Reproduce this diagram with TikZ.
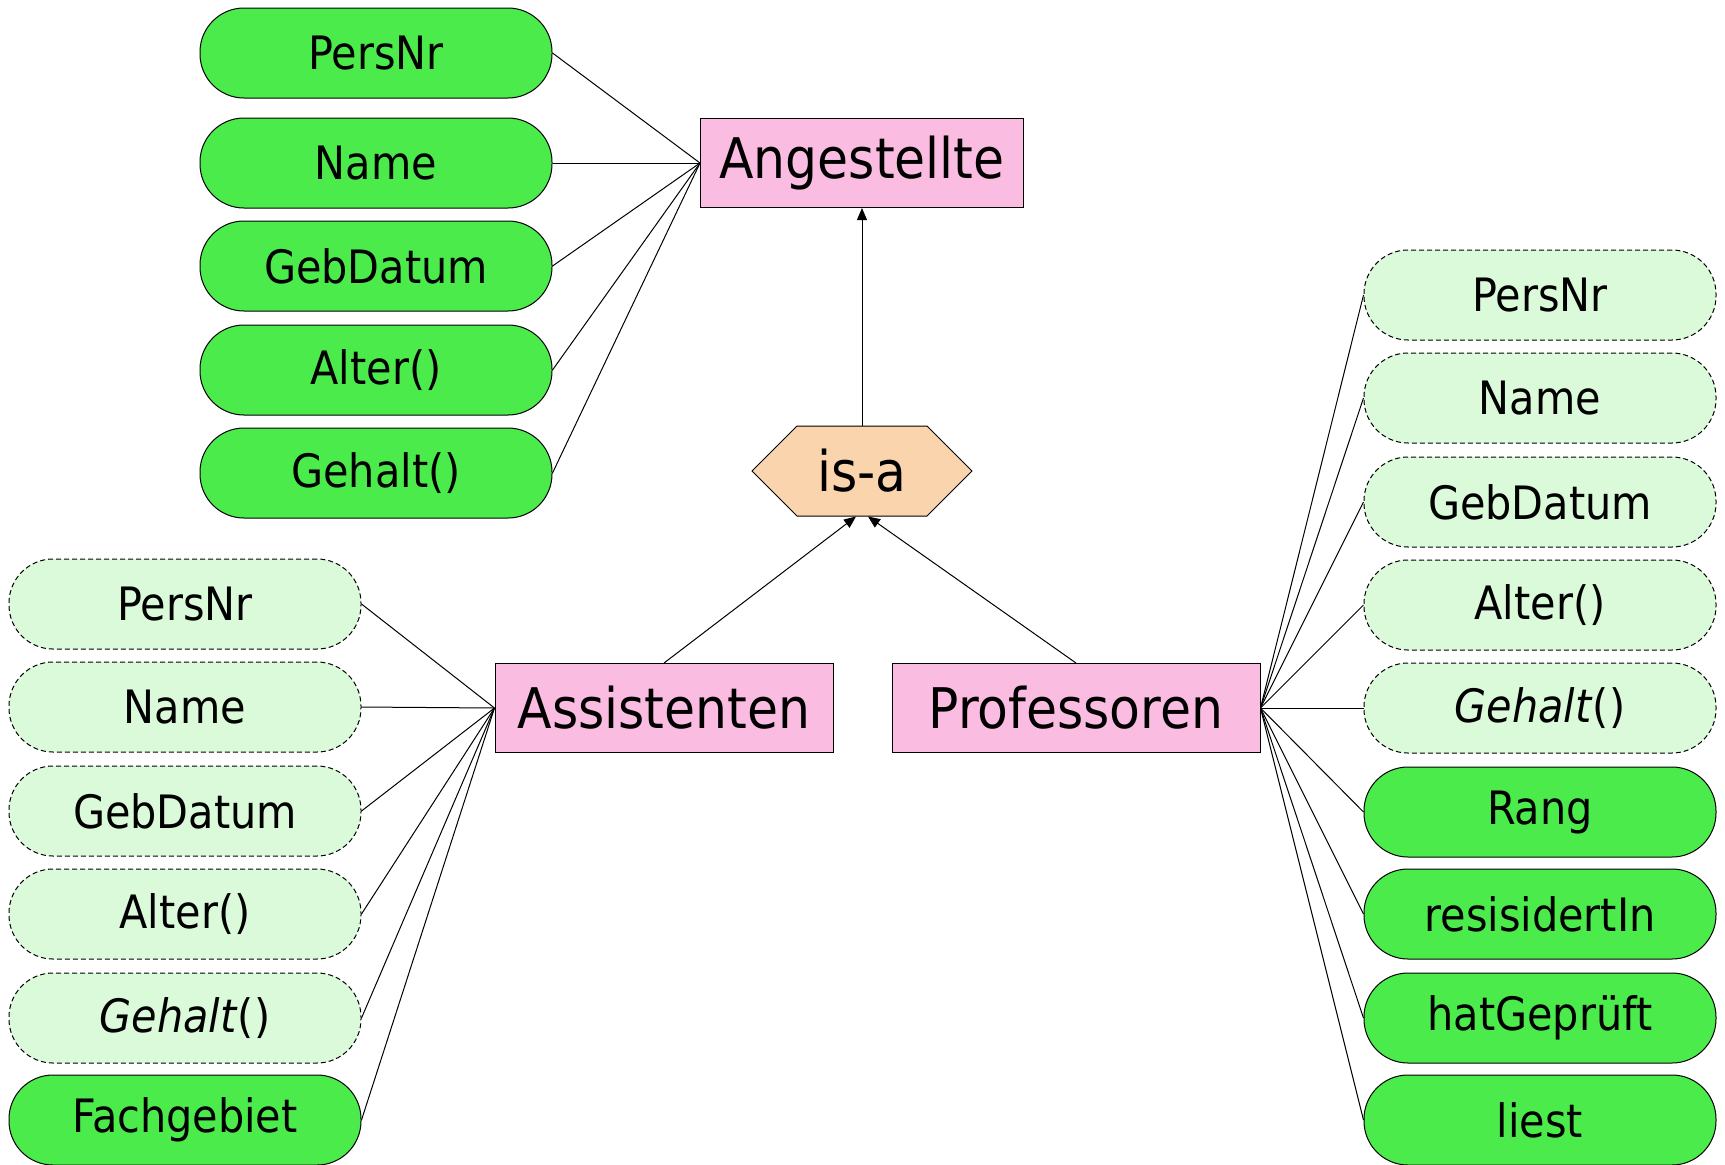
\documentclass[tikz,border=0pt]{standalone}
\usepackage{fontspec}
\setmainfont{DejaVu Sans Condensed}
\usetikzlibrary{shapes.symbols,arrows.meta}

\definecolor{attrgreen}{RGB}{75,235,75}
\definecolor{inhgreen}{RGB}{218,250,218}
\definecolor{entpink}{RGB}{250,188,225}
\definecolor{isapeach}{RGB}{250,212,172}

\begin{document}
\begin{tikzpicture}
  [x=0.5pt,y=-0.5pt,line width=0.5pt,
   attr/.style={rectangle,rounded corners=22pt,draw,fill=attrgreen,minimum width=176pt,minimum height=45pt,font=\fontsize{23}{26}\selectfont,inner sep=0pt},
   inh/.style={attr,fill=inhgreen,dash pattern=on 2.5pt off 1.5pt},
   ent/.style={rectangle,draw,fill=entpink,minimum height=44.5pt,font=\fontsize{28}{32}\selectfont,inner sep=0pt},
   arr/.style={-{Triangle[length=6pt,width=5pt]}}]
  \useasboundingbox (0,0) rectangle (1725,1164);

  \node (ang)[ent,minimum width=161.5pt] at (862,163) {Angestellte};
  \node (isa)[signal,signal to=west and east,signal pointer angle=90,draw,fill=isapeach,minimum width=110pt,minimum height=45pt,inner sep=0pt,font=\fontsize{28}{32}\selectfont] at (862,471) {is-a};
  \node (ass)[ent,minimum width=169pt] at (664,708) {Assistenten};
  \node (prof)[ent,minimum width=184pt] at (1076,708) {Professoren};

  \node (a1)[attr] at (376,53)  {PersNr};
  \node (a2)[attr] at (376,163) {Name};
  \node (a3)[attr] at (376,266) {GebDatum};
  \node (a4)[attr] at (376,370) {Alter()};
  \node (a5)[attr] at (376,473) {Gehalt()};

  \node (s1)[inh] at (185,604)  {PersNr};
  \node (s2)[inh] at (185,707)  {Name};
  \node (s3)[inh] at (185,811)  {GebDatum};
  \node (s4)[inh] at (185,914)  {Alter()};
  \node (s5)[inh] at (185,1018) {\textit{Gehalt}()};
  \node (s6)[attr] at (185,1120) {Fachgebiet};

  \node (p1)[inh] at (1540,295)  {PersNr};
  \node (p2)[inh] at (1540,398)  {Name};
  \node (p3)[inh] at (1540,502)  {GebDatum};
  \node (p4)[inh] at (1540,605)  {Alter()};
  \node (p5)[inh] at (1540,708)  {\textit{Gehalt}()};
  \node (p6)[attr] at (1540,812)  {Rang};
  \node (p7)[attr] at (1540,914)  {resisidertIn};
  \node (p8)[attr] at (1540,1018) {hatGeprüft};
  \node (p9)[attr] at (1540,1120) {liest};

  \foreach \from in {a1,a2,a3,a4,a5}
    \draw (\from.east) -- (ang.west);
  \foreach \from in {s1,s2,s3,s4,s5,s6}
    \draw (\from.east) -- (ass.west);
  \foreach \from in {p1,p2,p3,p4,p5,p6,p7,p8,p9}
    \draw (\from.west) -- (prof.east);

  \draw[arr] (isa.north) -- (ang.south);
  \draw[arr] (ass.north) -- ([xshift=-3pt]isa.south);
  \draw[arr] (prof.north) -- ([xshift=3pt]isa.south);

\end{tikzpicture}
\end{document}
